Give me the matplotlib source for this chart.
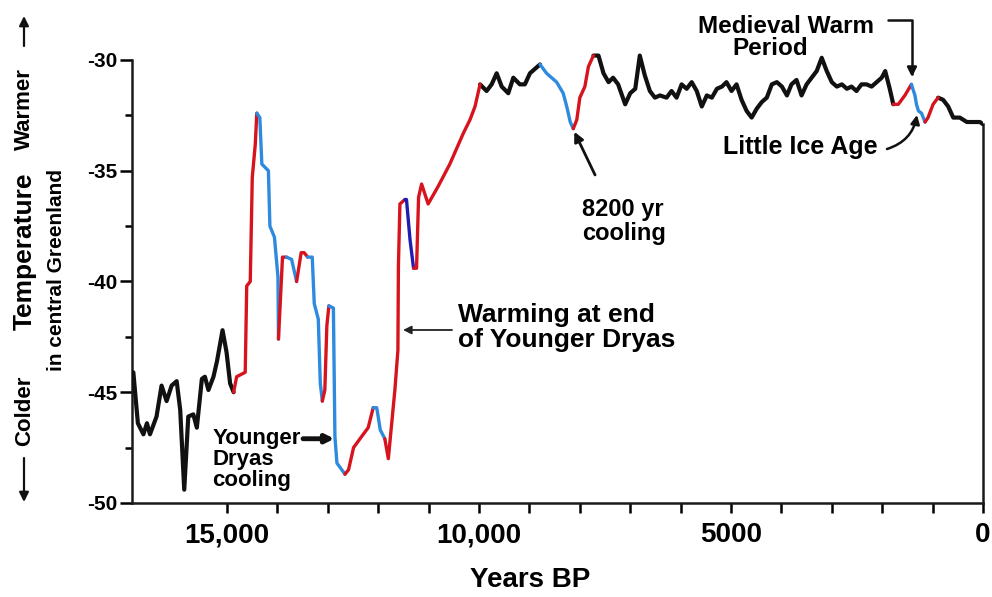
import matplotlib
matplotlib.use("Agg")
import matplotlib.pyplot as plt

plt.rcParams['font.family'] = ['Liberation Sans', 'DejaVu Sans']
plt.rcParams['font.weight'] = 'bold'
plt.rcParams['axes.unicode_minus'] = False

# GISP2 temperature record (years BP, deg C)
years = [16860, 16770, 16660, 16590, 16530, 16400, 16300, 16200, 16100, 16000,
         15930, 15850, 15770, 15670, 15600, 15500, 15440, 15370, 15270, 15200,
         15090, 15010, 14940, 14870, 14810, 14640, 14610, 14540, 14510, 14500,
         14440, 14410, 14350, 14310, 14180, 14150, 14060, 13990, 13980, 13900,
         13820, 13720, 13620, 13530, 13470, 13400, 13310, 13270, 13190, 13150,
         13110, 13060, 13020, 12980, 12890, 12860, 12820, 12660, 12590, 12490,
         12330, 12200, 12100, 12030, 11960, 11870, 11800, 11670, 11610, 11600,
         11570, 11470, 11440, 11370, 11300, 11240, 11200, 11140, 11010, 10810,
         10580, 10310, 10180, 10080, 9980, 9850, 9750, 9650, 9550, 9420,
         9320, 9190, 9090, 8990, 8890, 8790, 8660, 8460, 8330, 8260,
         8190, 8130, 8060, 8000, 7900, 7830, 7730, 7630, 7530, 7430,
         7340, 7240, 7100, 7000, 6900, 6810, 6710, 6610, 6510, 6410,
         6280, 6180, 6080, 5980, 5880, 5780, 5680, 5580, 5480, 5380,
         5280, 5180, 5090, 4990, 4890, 4790, 4690, 4590, 4490, 4390,
         4290, 4190, 4090, 3990, 3890, 3800, 3700, 3600, 3500, 3400,
         3300, 3200, 3100, 3000, 2900, 2800, 2700, 2610, 2510, 2410,
         2310, 2210, 2110, 2010, 1940, 1850, 1780, 1680, 1550, 1420,
         1350, 1320, 1280, 1220, 1150, 1090, 990, 890, 790, 690,
         590, 460, 320, 190, 60, 0]
temps = [-44.1, -46.4, -46.9, -46.4, -46.9, -46.1, -44.7, -45.4, -44.7, -44.5,
         -45.8, -49.4, -46.1, -46.0, -46.6, -44.4, -44.3, -44.9, -44.3, -43.6,
         -42.2, -43.2, -44.6, -45.0, -44.3, -44.1, -40.2, -40.0, -36.5, -35.3,
         -33.8, -32.4, -32.6, -34.7, -35.0, -37.5, -38.0, -39.8, -42.6, -38.9,
         -38.9, -39.0, -40.0, -38.7, -38.7, -38.9, -38.9, -41.0, -41.7, -44.6,
         -45.4, -44.9, -42.0, -41.1, -41.2, -47.0, -48.2, -48.7, -48.5, -47.5,
         -47.0, -46.6, -45.7, -45.7, -46.7, -47.1, -48.0, -44.9, -43.1, -39.3,
         -36.5, -36.3, -36.3, -38.1, -39.4, -39.4, -36.2, -35.6, -36.5, -35.7,
         -34.7, -33.3, -32.7, -32.1, -31.1, -31.4, -31.1, -30.6, -31.2, -31.5,
         -30.8, -31.1, -31.1, -30.6, -30.4, -30.2, -30.6, -31.0, -31.5, -32.1,
         -32.8, -33.1, -32.7, -31.7, -31.2, -30.3, -29.8, -29.8, -30.6, -31.0,
         -30.8, -31.1, -32.0, -31.5, -31.3, -29.8, -30.7, -31.4, -31.7, -31.6,
         -31.7, -31.4, -31.7, -31.1, -31.3, -31.0, -31.4, -32.1, -31.6, -31.7,
         -31.3, -31.2, -31.0, -31.4, -31.1, -31.8, -32.3, -32.6, -32.2, -31.9,
         -31.7, -31.1, -31.0, -31.2, -31.6, -31.1, -30.9, -31.6, -31.1, -30.8,
         -30.5, -29.9, -30.5, -31.0, -31.2, -31.1, -31.3, -31.2, -31.4, -31.1,
         -31.1, -31.2, -31.0, -30.8, -30.5, -31.3, -32.0, -32.0, -31.6, -31.1,
         -31.6, -32.0, -32.3, -32.4, -32.8, -32.6, -32.0, -31.7, -31.8, -32.1,
         -32.6, -32.6, -32.8, -32.8, -32.8, -32.9]

# colour of each stretch, starting at the given year
seg_start = [16860, 14870, 14410, 13980, 13820, 13620, 13400, 13110, 12980, 12660,
             12100, 11870, 11470, 11300, 9980, 8790, 8130, 7730, 1780, 1420,
             1150, 890]
seg_color = ['black', 'red', 'blue', 'red', 'blue', 'red', 'blue', 'red', 'blue', 'red',
             'blue', 'red', 'navy', 'red', 'black', 'blue', 'red', 'black', 'red', 'blue',
             'red', 'black']
colors = {'black': '#111111', 'red': '#d7141e', 'blue': '#2e8ade', 'navy': '#1e1eb0'}

tick_years = list(range(0, 16000, 1000))
tick_names = {0: '0', 5000: '5000', 10000: '10,000', 15000: '15,000'}

fig = plt.figure(figsize=(9.92, 5.97), dpi=100)
ax = fig.add_axes([0.1334, 0.1575, 0.8575, 0.7791])

for i, start in enumerate(seg_start):
    end = seg_start[i + 1] if i + 1 < len(seg_start) else 0
    xs = [y for y in years if end <= y <= start]
    ts = [t for y, t in zip(years, temps) if end <= y <= start]
    c = seg_color[i]
    lw = 3.0 if c == 'black' else 2.4
    ax.plot(xs, ts, color=colors[c], lw=lw, solid_joinstyle='round',
            solid_capstyle='round', zorder=3 if c == 'black' else 4)

ax.set_xlim(16880, 0)
ax.set_ylim(-50, -29)

ax.spines['top'].set_visible(False)
for s in ['left', 'bottom', 'right']:
    ax.spines[s].set_linewidth(1.8)
    ax.spines[s].set_color('#1a1a1a')
ax.spines['left'].set_bounds(-50, -30)
ax.spines['right'].set_bounds(-50, temps[-1])

ax.set_yticks([-50, -45, -40, -35, -30])
ax.set_yticklabels(['-50', '-45', '-40', '-35', '-30'])
ax.set_yticks([-47.5, -42.5, -37.5, -32.5], minor=True)
ax.set_xticks(tick_years)
ax.set_xticklabels([tick_names.get(v, '') for v in tick_years])
ax.tick_params(axis='y', which='major', length=9, width=1.8, pad=2, labelsize=15)
ax.tick_params(axis='y', which='minor', length=5, width=1.8)
ax.tick_params(axis='x', which='major', length=7, width=1.8, pad=7, labelsize=20)

fig.text(530 / 992, 1 - 580 / 597, 'Years BP', ha='center', va='center', fontsize=20)

# y-axis side labels
fig.text(24 / 992, 1 - 109 / 597, 'Warmer', rotation=90, ha='center', va='center', fontsize=16)
fig.text(25 / 992, 1 - 251 / 597, 'Temperature', rotation=90, ha='center', va='center', fontsize=19)
fig.text(57 / 992, 1 - 270 / 597, 'in central Greenland', rotation=90, ha='center', va='center', fontsize=15)
fig.text(25 / 992, 1 - 411 / 597, 'Colder', rotation=90, ha='center', va='center', fontsize=16)
arr = dict(arrowstyle='-|>', color='#111111', lw=1.6, mutation_scale=14, shrinkA=0, shrinkB=0)
ax.annotate('', xy=(24 / 992, 1 - 16 / 597), xytext=(24 / 992, 1 - 46 / 597),
            xycoords='figure fraction', textcoords='figure fraction', arrowprops=arr)
ax.annotate('', xy=(24 / 992, 1 - 502 / 597), xytext=(24 / 992, 1 - 458 / 597),
            xycoords='figure fraction', textcoords='figure fraction', arrowprops=arr)

# annotations
ax.text(15297, -46.61, 'Younger\nDryas\ncooling', ha='left', va='top', fontsize=16, linespacing=1.0)
ax.annotate('', xy=(12870, -47.1), xytext=(13492, -47.1),
            arrowprops=dict(arrowstyle='-|>', color='#111111', lw=3.5, mutation_scale=12,
                            shrinkA=0, shrinkB=0))

ax.text(10417, -40.97, 'Warming at end\nof Younger Dryas', ha='left', va='top', fontsize=19, linespacing=1.05)
ax.annotate('', xy=(11508, -42.19), xytext=(10536, -42.19),
            arrowprops=dict(arrowstyle='-|>', color='#222222', lw=1.3, mutation_scale=12,
                            shrinkA=0, shrinkB=0))

ax.text(7956, -36.23, '8200 yr\ncooling', ha='left', va='top', fontsize=17, linespacing=1.05)
ax.annotate('', xy=(8109, -33.24), xytext=(7698, -35.19),
            arrowprops=dict(arrowstyle='-|>', color='#111111', lw=2.0, mutation_scale=14,
                            shrinkA=0, shrinkB=0))

ax.text(5655, -27.97, 'Medieval Warm', ha='left', va='top', fontsize=17.5, clip_on=False)
ax.text(4980, -28.96, 'Period', ha='left', va='top', fontsize=17.5, clip_on=False)
ax.annotate('', xy=(1409, -30.77), xytext=(1885, -28.19), annotation_clip=False,
            arrowprops=dict(arrowstyle='-|>', color='#111111', lw=1.8, mutation_scale=14,
                            shrinkA=0, shrinkB=0,
                            connectionstyle='angle,angleA=0,angleB=90,rad=0'))

ax.text(5159, -33.93, 'Little Ice Age', ha='left', va='center', fontsize=18)
ax.annotate('', xy=(1310, -32.48), xytext=(1905, -34.02),
            arrowprops=dict(arrowstyle='-|>', color='#111111', lw=1.8, mutation_scale=13,
                            shrinkA=0, shrinkB=0, connectionstyle='arc3,rad=0.3'))

fig.savefig('out.png', dpi=100)
